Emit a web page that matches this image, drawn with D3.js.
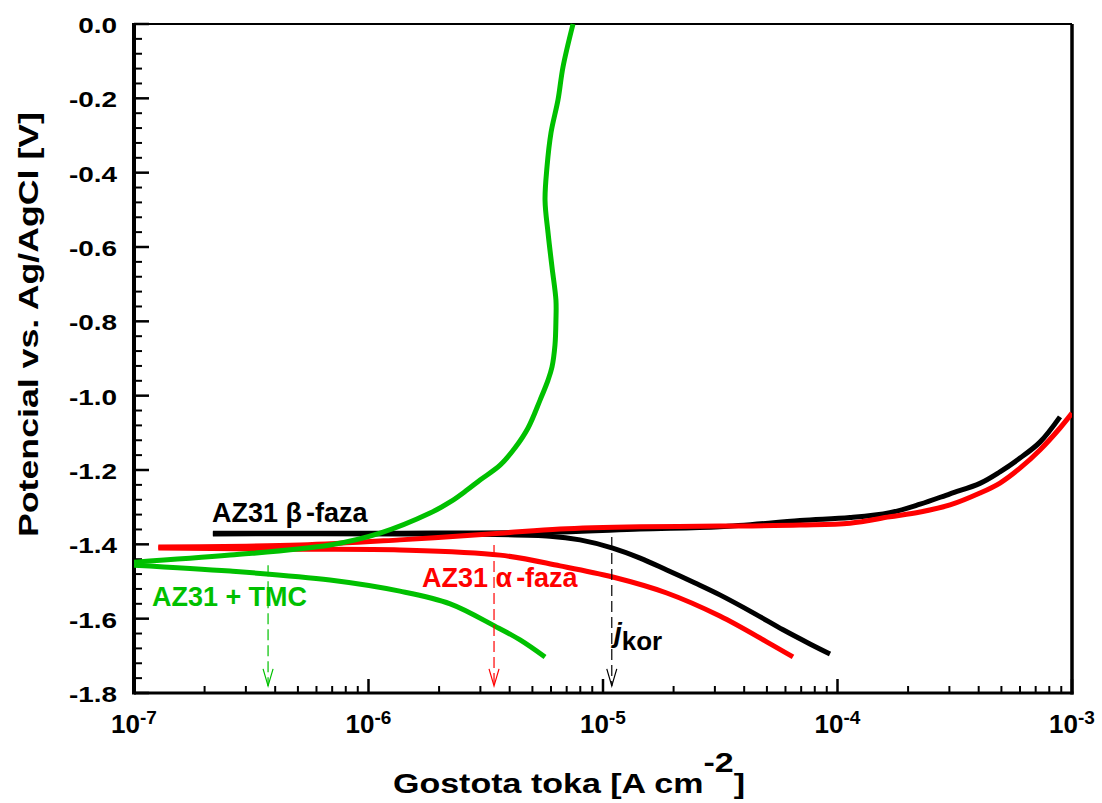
<!DOCTYPE html>
<html><head><meta charset="utf-8">
<script src="https://cdn.jsdelivr.net/npm/d3@7"></script>
<style>
body{margin:0;background:#fff;}
svg text{font-family:"Liberation Sans",Arial,Helvetica,sans-serif;font-weight:bold;}
</style>
</head><body>
<svg id="chart" width="1102" height="803"></svg>
<script>
// ---------- data: [current density A/cm2, potential V] ----------
const tmcAnodic = [[1.00e-7,-1.448],[2.57e-7,-1.429],[6.85e-7,-1.402],[1.12e-6,-1.370],[1.83e-6,-1.316],
  [2.23e-6,-1.286],[2.63e-6,-1.254],[2.99e-6,-1.227],[3.64e-6,-1.187],[4.21e-6,-1.141],[4.79e-6,-1.087],
  [5.39e-6,-1.012],[5.83e-6,-0.958],[6.06e-6,-0.923],[6.24e-6,-0.864],[6.30e-6,-0.796],[6.30e-6,-0.743],
  [6.06e-6,-0.654],[5.83e-6,-0.562],[5.66e-6,-0.474],[5.77e-6,-0.385],[6.00e-6,-0.293],[6.43e-6,-0.204],
  [6.75e-6,-0.116],[7.45e-6,0.0]];
const tmcCathodic = [[1.00e-7,-1.456],[2.57e-7,-1.472],[6.85e-7,-1.496],[1.36e-6,-1.526],[2.23e-6,-1.560],
  [3.46e-6,-1.620],[4.43e-6,-1.657],[5.66e-6,-1.703]];
const betaAnodic = [[2.17e-7,-1.370],[1.36e-6,-1.370],[6.56e-6,-1.367],[1.44e-5,-1.359],[3.15e-5,-1.353],
  [6.92e-5,-1.336],[1.13e-4,-1.328],[1.67e-4,-1.315],[2.25e-4,-1.292],[3.02e-4,-1.264],[4.05e-4,-1.236],
  [4.93e-4,-1.205],[6.00e-4,-1.168],[7.30e-4,-1.125],[8.89e-4,-1.057]];
const betaCathodic = [[2.17e-7,-1.372],[1.36e-6,-1.372],[5.94e-6,-1.378],[7.98e-6,-1.388],[1.10e-5,-1.410],
  [1.44e-5,-1.437],[1.87e-5,-1.469],[2.47e-5,-1.504],[3.15e-5,-1.536],[4.45e-5,-1.587],[5.86e-5,-1.630],
  [7.63e-5,-1.668],[9.29e-5,-1.695]];
const alphaAnodic = [[1.27e-7,-1.407],[5.10e-7,-1.402],[1.36e-6,-1.388],[3.64e-6,-1.370],[6.56e-6,-1.359],
  [1.44e-5,-1.353],[3.15e-5,-1.351],[6.92e-5,-1.348],[1.13e-4,-1.343],[1.67e-4,-1.326],[2.25e-4,-1.313],
  [3.02e-4,-1.294],[4.05e-4,-1.262],[4.93e-4,-1.235],[6.00e-4,-1.195],[7.30e-4,-1.146],[8.89e-4,-1.087],
  [1.00e-3,-1.047]];
const alphaCathodic = [[1.27e-7,-1.410],[5.10e-7,-1.413],[1.36e-6,-1.415],[3.64e-6,-1.429],[6.56e-6,-1.458],
  [1.10e-5,-1.488],[1.87e-5,-1.531],[3.15e-5,-1.593],[5.01e-5,-1.663],[6.46e-5,-1.703]];

// corrosion current markers: [jkor, start potential, colour]
const jkorMarkers = [[3.73e-7,-1.456,"#00c000"],[3.43e-6,-1.402,"#ff0000"],[1.09e-5,-1.380,"#000000"]];
const arrowTipE = -1.781;

const yMajor = [0,-0.2,-0.4,-0.6,-0.8,-1.0,-1.2,-1.4,-1.6,-1.8];
const yTickLabels = ["0.0","-0.2","-0.4","-0.6","-0.8","-1.0","-1.2","-1.4","-1.6","-1.8"];
const xMajor = [1e-7,1e-6,1e-5,1e-4,1e-3];
const xTickExp = ["-7","-6","-5","-4","-3"];

// ---------- layout ----------
const svg = d3.select("#chart");
const L = 134, R = 1072, T = 24, B = 693;
const x = d3.scaleLog().domain([1e-7,1e-3]).range([L,R]);
const y = d3.scaleLinear().domain([-1.8,0]).range([B,T]);

svg.append("defs").append("clipPath").attr("id","clip")
  .append("rect").attr("x",L).attr("y",T-3).attr("width",R-L).attr("height",B-T+3);

// ticks
const yMinor = d3.range(0,91).map(i=>-i*0.02).filter((v,i)=>i%2===0 && i%10!==0);
svg.append("g").selectAll("line").data(yMinor).join("line")
  .attr("x1",L).attr("x2",L+8).attr("y1",d=>y(d)).attr("y2",d=>y(d))
  .attr("stroke","#000").attr("stroke-width",2);
svg.append("g").selectAll("line").data(yMajor).join("line")
  .attr("x1",L).attr("x2",L+15).attr("y1",d=>y(d)).attr("y2",d=>y(d))
  .attr("stroke","#000").attr("stroke-width",2.5);
const xMinor = [];
for (let e=-7;e<-3;e++) for (let k=2;k<=9;k++) xMinor.push(k*Math.pow(10,e));
svg.append("g").selectAll("line").data(xMinor).join("line")
  .attr("x1",d=>x(d)).attr("x2",d=>x(d)).attr("y1",B).attr("y2",B-7)
  .attr("stroke","#000").attr("stroke-width",2);
svg.append("g").selectAll("line").data(xMajor).join("line")
  .attr("x1",d=>x(d)).attr("x2",d=>x(d)).attr("y1",B).attr("y2",B-14)
  .attr("stroke","#000").attr("stroke-width",2.5);

// frame
svg.append("line").attr("x1",L).attr("x2",R).attr("y1",T).attr("y2",T).attr("stroke","#000").attr("stroke-width",2);
svg.append("line").attr("x1",R).attr("x2",R).attr("y1",T).attr("y2",B+1.5).attr("stroke","#000").attr("stroke-width",3.5);
svg.append("line").attr("x1",L).attr("x2",R+1.5).attr("y1",B).attr("y2",B).attr("stroke","#000").attr("stroke-width",3);
svg.append("line").attr("x1",L).attr("x2",L).attr("y1",T-1).attr("y2",B+1.5).attr("stroke","#000").attr("stroke-width",4);

// tick labels
svg.append("g").selectAll("text").data(yMajor).join("text")
  .attr("transform",d=>`translate(117,${y(d)+9}) scale(1.27,1)`)
  .attr("text-anchor","end").style("font-size","22px")
  .text((d,i)=>yTickLabels[i]);
const xl = svg.append("g").selectAll("text").data(xMajor).join("text")
  .attr("x",d=>x(d)).attr("y",733).attr("text-anchor","middle");
xl.append("tspan").style("font-size","26px").text("10");
xl.append("tspan").style("font-size","19px").attr("dy",-9).text((d,i)=>xTickExp[i]);

// axis titles
const xt = svg.append("text").attr("x",393).attr("y",793).style("font-size","28px")
  .attr("textLength",352).attr("lengthAdjust","spacingAndGlyphs");
xt.append("tspan").text("Gostota toka [A cm");
xt.append("tspan").attr("dy",-21).text("-2");
xt.append("tspan").attr("dy",21).text("]");
svg.append("text").attr("transform","translate(38,537) rotate(-90)").style("font-size","28px")
  .attr("textLength",425).attr("lengthAdjust","spacingAndGlyphs")
  .text("Potencial vs. Ag/AgCl [V]");

// curves
const line = d3.line().x(d=>x(d[0])).y(d=>y(d[1])).curve(d3.curveCatmullRom.alpha(0.5));
const plot = svg.append("g").attr("clip-path","url(#clip)");
const series = [
  [betaCathodic,"#000000"],[betaAnodic,"#000000"],
  [alphaCathodic,"#ff0000"],[alphaAnodic,"#ff0000"],
  [tmcCathodic,"#00c000"],[tmcAnodic,"#00c000"]
];
plot.selectAll("path").data(series).join("path")
  .attr("d",d=>line(d[0])).attr("fill","none").attr("stroke",d=>d[1])
  .attr("stroke-width",5);

// jkor dashed arrows
jkorMarkers.forEach(m=>{
  const xx = x(m[0]), y0 = y(m[1]), y1 = y(arrowTipE);
  svg.append("line").attr("x1",xx).attr("x2",xx).attr("y1",y0).attr("y2",y1)
    .attr("stroke",m[2]).attr("stroke-width",1.2).attr("stroke-dasharray","11,5");
  svg.append("path").attr("d",`M${xx-5},${y1-17}L${xx},${y1}L${xx+5},${y1-17}`)
    .attr("fill","none").attr("stroke",m[2]).attr("stroke-width",1.2);
});

// labels
const lb = svg.append("text").attr("x",212).attr("y",522).style("font-size","27px").attr("fill","#000");
lb.append("tspan").text("AZ31 β");
lb.append("tspan").attr("dx",4).text("-faza");
const la = svg.append("text").attr("x",422).attr("y",587).style("font-size","27px").attr("fill","#ff0000");
la.append("tspan").text("AZ31 α");
la.append("tspan").attr("dx",4).text("-faza");
svg.append("text").attr("x",152).attr("y",606).style("font-size","27px").attr("fill","#00c000")
  .attr("textLength",155).attr("lengthAdjust","spacingAndGlyphs").text("AZ31 + TMC");
const jk = svg.append("text").attr("x",614).attr("y",642).attr("fill","#000");
jk.append("tspan").style("font-size","28px").style("font-style","italic").text("j");
jk.append("tspan").style("font-size","26px").attr("dy",8).text("kor");
</script>
</body></html>
